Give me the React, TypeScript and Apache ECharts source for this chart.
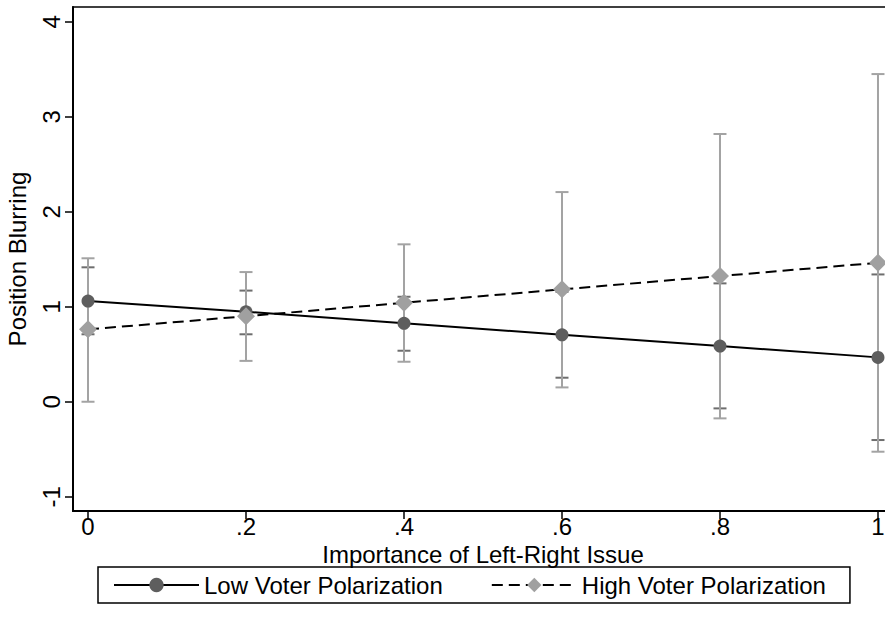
import React, { useEffect, useRef } from "react";
import * as echarts from "echarts";

const xValues = [0, 0.2, 0.4, 0.6, 0.8, 1];
const lowMean = [1.06, 0.947, 0.825, 0.705, 0.586, 0.467];
const lowLower = [0.71, 0.71, 0.537, 0.253, -0.07, -0.403];
const lowUpper = [1.415, 1.17, 1.105, 1.157, 1.246, 1.34];
const highMean = [0.762, 0.9, 1.042, 1.183, 1.323, 1.463];
const highLower = [0.0, 0.43, 0.421, 0.151, -0.175, -0.526];
const highUpper = [1.51, 1.365, 1.657, 2.207, 2.818, 3.449];
const xTicks = [0, 0.2, 0.4, 0.6, 0.8, 1];
const yTicks = [-1, 0, 1, 2, 3, 4];
const seriesNames = ["Low Voter Polarization", "High Voter Polarization"];

const FONT = "'Liberation Sans', Arial, Helvetica, sans-serif";

function fmtX(v: number): string {
  if (v === 0) return "0";
  if (v === 1) return "1";
  return "." + Math.round(v * 10);
}

function errorBarSeries(lo: number[], hi: number[], color: string) {
  return {
    type: "custom",
    silent: true,
    z: 1,
    data: xValues.map((x, i) => [x, lo[i], hi[i]]),
    renderItem: (params: any, api: any) => {
      const x = api.value(0);
      const a = api.coord([x, api.value(1)]);
      const b = api.coord([x, api.value(2)]);
      const half = 6.5;
      const style = { stroke: color, lineWidth: 2 };
      return {
        type: "group",
        children: [
          { type: "line", shape: { x1: a[0], y1: a[1], x2: b[0], y2: b[1] }, style },
          { type: "line", shape: { x1: a[0] - half, y1: a[1], x2: a[0] + half, y2: a[1] }, style },
          { type: "line", shape: { x1: b[0] - half, y1: b[1], x2: b[0] + half, y2: b[1] }, style },
        ],
      };
    },
  };
}

export default function App() {
  const ref = useRef<HTMLDivElement>(null);
  useEffect(() => {
    document.body.style.margin = "0";
    if (!ref.current) return;
    const chart = echarts.init(ref.current, null, { renderer: "svg" });
    chart.setOption({
      animation: false,
      backgroundColor: "#ffffff",
      textStyle: { fontFamily: FONT },
      grid: {
        left: 73,
        top: 7,
        right: -8,
        bottom: 122,
        show: true,
        borderColor: "#000",
        borderWidth: 1.5,
        containLabel: false,
        outerBoundsMode: "none",
      },
      xAxis: {
        type: "value",
        min: -0.019,
        max: 1.019,
        name: "Importance of Left-Right Issue",
        nameLocation: "middle",
        nameGap: 14,
        nameTextStyle: { fontSize: 24, color: "#000", fontFamily: FONT },
        axisLine: { show: true, onZero: false, lineStyle: { color: "#000", width: 2 } },
        axisTick: {
          show: true,
          length: 8,
          lineStyle: { color: "#000", width: 1.5 },
          customValues: xTicks,
        },
        axisLabel: {
          customValues: xTicks,
          formatter: (v: number) => fmtX(v),
          fontSize: 24,
          color: "#000",
          fontFamily: FONT,
          margin: 3,
        },
        splitLine: { show: false },
      },
      yAxis: {
        type: "value",
        min: -1.15,
        max: 4.155,
        name: "Position Blurring",
        nameLocation: "middle",
        nameGap: 44,
        nameTextStyle: { fontSize: 24, color: "#000", fontFamily: FONT },
        axisLine: { show: true, onZero: false, lineStyle: { color: "#000", width: 2 } },
        axisTick: {
          show: true,
          length: 8,
          lineStyle: { color: "#000", width: 1.5 },
          customValues: yTicks,
        },
        axisLabel: {
          customValues: yTicks,
          rotate: 90,
          formatter: (v: number) => String(v),
          fontSize: 24,
          color: "#000",
          fontFamily: FONT,
          margin: 10,
        },
        splitLine: { show: false },
      },
      legend: {
        data: seriesNames,
        left: 98,
        top: 567,
        orient: "horizontal",
        borderColor: "#000",
        borderWidth: 1.5,
        padding: [6, 24, 6, 15],
        itemGap: 48,
        itemWidth: 85,
        itemHeight: 18,
        itemTextGap: 10,
        textStyle: { fontSize: 24, color: "#000", fontFamily: FONT },
      },
      series: [
        errorBarSeries(lowLower, lowUpper, "#6e6e6e"),
        errorBarSeries(highLower, highUpper, "#a3a3a3"),
        {
          name: seriesNames[0],
          type: "line",
          z: 3,
          data: xValues.map((x, i) => [x, lowMean[i]]),
          symbol: "circle",
          symbolSize: 13,
          itemStyle: { color: "#5e5e5e" },
          lineStyle: { color: "#000", width: 2 },
        },
        {
          name: seriesNames[1],
          type: "line",
          z: 4,
          data: xValues.map((x, i) => [x, highMean[i]]),
          symbol: "diamond",
          symbolSize: 18,
          itemStyle: { color: "#a0a0a0" },
          lineStyle: { color: "#000", width: 2, type: [11, 6] },
        },
      ],
    });
    return () => chart.dispose();
  }, []);
  return <div ref={ref} style={{ width: 885, height: 633 }} />;
}
